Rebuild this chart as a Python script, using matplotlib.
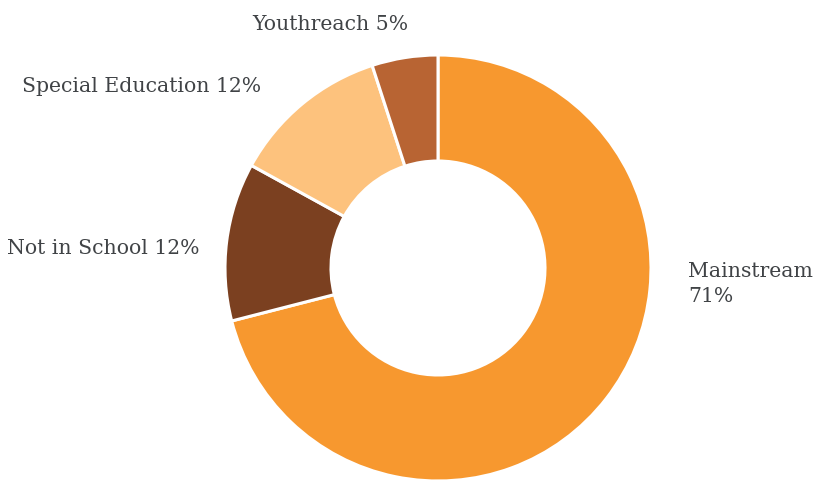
import matplotlib.pyplot as plt

# share of young people by setting
categories = ['Mainstream', 'Not in School', 'Special Education', 'Youthreach']
shares = [71, 12, 12, 5]
colors = ['#F7982F', '#7B4020', '#FDC27D', '#B86433']

W, H = 817, 481
fig = plt.figure(figsize=(W / 100, H / 100), dpi=100)
ax = fig.add_axes([0, 0, 1, 1])

ax.pie(shares, colors=colors, startangle=90, counterclock=False,
       center=(438, H - 269), radius=213, frame=True,
       wedgeprops=dict(width=106, edgecolor='white', linewidth=2.2))
ax.set_xlim(0, W)
ax.set_ylim(0, H)
ax.axis('off')

txt = dict(fontsize=14.7, family='DejaVu Serif', color='#404346', va='center')
labels = ['%s %d%%' % (c, s) for c, s in zip(categories, shares)]
ax.text(688, H - 284, '%s\n%d%%' % (categories[0], shares[0]), ha='left',
        linespacing=1.45, **txt)
ax.text(200, H - 249, labels[1], ha='right', **txt)
ax.text(261, H - 87, labels[2], ha='right', **txt)
ax.text(408, H - 24, labels[3], ha='right', **txt)

fig.savefig('out.png', dpi=100)
